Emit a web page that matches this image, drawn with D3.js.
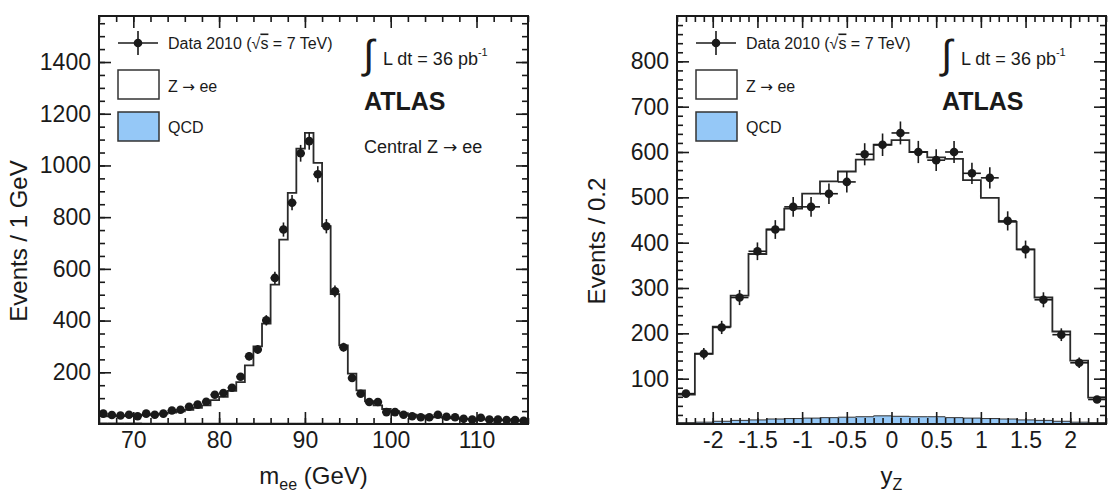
<!DOCTYPE html>
<html>
<head>
<meta charset="utf-8">
<script src="https://cdn.jsdelivr.net/npm/d3@7"></script>
<style>
  body { margin: 0; background: #fff; }
  svg { display: block; font-family: "Liberation Sans", Arial, Helvetica, sans-serif; }
</style>
</head>
<body>
<svg id="chart" width="1120" height="494"></svg>
<script>
// ---- m_ee panel (1 GeV bins from 66 to 116) ----
const massRange = [66, 116];
const massBin = 1;
const massData = [40, 35, 33, 36, 30, 40, 36, 40, 52, 55,
                  67, 75, 86, 113, 120, 140, 183, 262, 288, 401,
                  565, 752, 856, 1047, 1094, 966, 765, 513, 297, 178,
                  117, 85, 85, 46, 46, 36, 30, 26, 26, 36,
                  28, 26, 20, 17, 24, 17, 17, 15, 15, 12];
const massZee = [30, 30, 31, 32, 33, 35, 37, 40, 44, 49,
                 55, 62, 72, 92, 105, 128, 162, 227, 300, 388,
                 539, 713, 894, 1065, 1126, 1010, 765, 502, 304, 195,
                 130, 88, 72, 58, 50, 42, 36, 32, 28, 26,
                 24, 22, 20, 19, 18, 17, 16, 15, 14, 13];
const massQCD = [4, 4, 4, 4, 4, 3, 3, 3, 3, 3,
                 3, 3, 3, 3, 3, 3, 3, 3, 3, 3,
                 3, 3, 3, 3, 3, 3, 3, 3, 2, 2,
                 2, 2, 2, 2, 2, 2, 2, 2, 2, 2,
                 2, 2, 2, 2, 2, 2, 2, 2, 2, 2];
const massXTicks = [70, 80, 90, 100, 110];
const massYTicks = [200, 400, 600, 800, 1000, 1200, 1400];

// ---- y_Z panel (0.2 bins from -2.4 to 2.4) ----
const rapRange = [-2.4, 2.4];
const rapBin = 0.2;
const rapData = [67, 155, 213, 279, 381, 429, 479, 479, 508, 534, 595, 616,
                 642, 600, 582, 600, 553, 543, 448, 385, 274, 197, 135, 54];
const rapZee = [65, 155, 215, 283, 375, 429, 475, 508, 535, 557, 583, 616,
                626, 600, 588, 585, 538, 499, 446, 385, 279, 204, 140, 58];
const rapQCD = [3, 4, 6, 8, 9, 11, 12, 13, 14, 15, 16, 18,
                17, 16, 16, 14, 13, 12, 11, 9, 8, 6, 4, 3];
const rapXTicks = [-2, -1.5, -1, -0.5, 0, 0.5, 1, 1.5, 2];
const rapYTicks = [100, 200, 300, 400, 500, 600, 700, 800];

const INK = "#1a1a1a";
const QCD_FILL = "#95c8f7";
const SYM = '"DejaVu Sans", sans-serif';
const svg = d3.select("#chart");

function styleAxis(g, fontSize) {
  g.select(".domain").remove();
  g.selectAll(".tick line").attr("stroke", INK).attr("stroke-width", 1.6);
  g.selectAll(".tick text")
    .attr("fill", INK)
    .attr("font-size", fontSize)
    .attr("font-family", '"Liberation Sans", Arial, Helvetica, sans-serif');
}

// text like "Z → ee" with a wider arrow glyph
function arrowText(sel, before, after) {
  sel.append("tspan").text(before);
  sel.append("tspan").attr("font-family", SYM).attr("font-size", "0.95em").text("→");
  sel.append("tspan").text(after);
}

function drawPanel(p) {
  const g = svg.append("g");
  const x = d3.scaleLinear().domain(p.xDomain).range([p.left, p.right]);
  const y = d3.scaleLinear().domain(p.yDomain).range([p.bottom, p.top]);

  const clipId = "clip-" + p.id;
  g.append("clipPath").attr("id", clipId)
    .append("rect")
    .attr("x", p.left).attr("y", p.top)
    .attr("width", p.right - p.left).attr("height", p.bottom - p.top);

  // bin edges / centres from the bin structure
  const lowEdge = i => p.xDomain[0] + i * p.binWidth;
  const steps = vals => vals.map((v, i) => ({ x: lowEdge(i), v }))
    .concat([{ x: p.xDomain[1], v: vals[vals.length - 1] }]);

  const plot = g.append("g").attr("clip-path", `url(#${clipId})`);

  // QCD filled histogram
  plot.append("path")
    .datum(steps(p.qcd))
    .attr("fill", QCD_FILL)
    .attr("stroke", "#333")
    .attr("stroke-width", 1)
    .attr("d", d3.area().curve(d3.curveStepAfter)
      .x(d => x(d.x)).y0(y(0)).y1(d => y(d.v)));

  // Z -> ee histogram line
  plot.append("path")
    .datum(steps(p.zee))
    .attr("fill", "none")
    .attr("stroke", "#2a2a2a")
    .attr("stroke-width", 1.8)
    .attr("d", d3.line().curve(d3.curveStepAfter).x(d => x(d.x)).y(d => y(d.v)));

  // data points with errors
  const pts = p.data.map((v, i) => ({ c: lowEdge(i) + p.binWidth / 2, v, e: Math.sqrt(v) }));
  const pg = plot.append("g").selectAll("g").data(pts).join("g");
  pg.append("line")
    .attr("x1", d => x(d.c)).attr("x2", d => x(d.c))
    .attr("y1", d => y(d.v - d.e)).attr("y2", d => y(d.v + d.e))
    .attr("stroke", INK).attr("stroke-width", 1.6);
  pg.append("line")
    .attr("x1", d => x(d.c - p.binWidth / 2)).attr("x2", d => x(d.c + p.binWidth / 2))
    .attr("y1", d => y(d.v)).attr("y2", d => y(d.v))
    .attr("stroke", INK).attr("stroke-width", 1.6);
  pg.append("circle")
    .attr("cx", d => x(d.c)).attr("cy", d => y(d.v))
    .attr("r", 4.3).attr("fill", INK);

  // axes: ticks inward on all four sides
  const fmt = d => String(d);
  g.append("g").attr("transform", `translate(0,${p.bottom})`)
    .call(d3.axisBottom(x).tickValues(p.xTicks).tickSize(-12).tickPadding(8).tickFormat(fmt))
    .call(a => styleAxis(a, 23));
  g.append("g").attr("transform", `translate(0,${p.bottom})`)
    .call(d3.axisBottom(x).tickValues(p.xMinor).tickSize(-6).tickFormat(""))
    .call(a => styleAxis(a, 23));
  g.append("g").attr("transform", `translate(0,${p.top})`)
    .call(d3.axisTop(x).tickValues(p.xTicks).tickSize(-12).tickFormat(""))
    .call(a => styleAxis(a, 23));
  g.append("g").attr("transform", `translate(0,${p.top})`)
    .call(d3.axisTop(x).tickValues(p.xMinor).tickSize(-6).tickFormat(""))
    .call(a => styleAxis(a, 23));

  g.append("g").attr("transform", `translate(${p.left},0)`)
    .call(d3.axisLeft(y).tickValues(p.yTicks).tickSize(-12).tickPadding(8).tickFormat(fmt))
    .call(a => styleAxis(a, 23));
  g.append("g").attr("transform", `translate(${p.left},0)`)
    .call(d3.axisLeft(y).tickValues(p.yMinor).tickSize(-6).tickFormat(""))
    .call(a => styleAxis(a, 23));
  g.append("g").attr("transform", `translate(${p.right},0)`)
    .call(d3.axisRight(y).tickValues(p.yTicks).tickSize(-12).tickFormat(""))
    .call(a => styleAxis(a, 23));
  g.append("g").attr("transform", `translate(${p.right},0)`)
    .call(d3.axisRight(y).tickValues(p.yMinor).tickSize(-6).tickFormat(""))
    .call(a => styleAxis(a, 23));

  // frame
  g.append("rect")
    .attr("x", p.left).attr("y", p.top)
    .attr("width", p.right - p.left).attr("height", p.bottom - p.top)
    .attr("fill", "none").attr("stroke", INK).attr("stroke-width", 2);

  // axis titles
  const xt = g.append("text")
    .attr("x", (p.left + p.right) / 2).attr("y", 484)
    .attr("text-anchor", "middle").attr("font-size", 24).attr("fill", INK);
  xt.append("tspan").text(p.xTitle[0]);
  xt.append("tspan").attr("font-size", 16).attr("dy", 6).text(p.xTitle[1]);
  if (p.xTitle[2]) xt.append("tspan").attr("dy", -6).text(p.xTitle[2]);

  g.append("text")
    .attr("transform", `translate(${p.left - 72},241) rotate(-90)`)
    .attr("text-anchor", "middle").attr("font-size", 24).attr("fill", INK)
    .text(p.yTitle);

  // legend
  const L = p.left;
  const leg = g.append("g");
  leg.append("line").attr("x1", L + 19).attr("x2", L + 59).attr("y1", 43).attr("y2", 43)
    .attr("stroke", INK).attr("stroke-width", 1.6);
  leg.append("line").attr("x1", L + 39).attr("x2", L + 39).attr("y1", 31).attr("y2", 55)
    .attr("stroke", INK).attr("stroke-width", 1.6);
  leg.append("circle").attr("cx", L + 39).attr("cy", 43).attr("r", 4.3).attr("fill", INK);
  const dt = leg.append("text").attr("x", L + 69).attr("y", 48.5)
    .attr("font-size", 16).attr("fill", INK);
  dt.append("tspan").text("Data 2010 (√");
  dt.append("tspan").attr("text-decoration", "overline").text("s");
  dt.append("tspan").text(" = 7 TeV)");

  leg.append("rect").attr("x", L + 19).attr("y", 70).attr("width", 41).attr("height", 29)
    .attr("fill", "#fff").attr("stroke", "#333").attr("stroke-width", 1.5);
  leg.append("text").attr("x", L + 69).attr("y", 92).attr("font-size", 16).attr("fill", INK)
    .call(t => arrowText(t, "Z ", " ee"));
  leg.append("rect").attr("x", L + 19).attr("y", 112).attr("width", 41).attr("height", 29)
    .attr("fill", QCD_FILL).attr("stroke", "#333").attr("stroke-width", 1.5);
  leg.append("text").attr("x", L + 69).attr("y", 132.5).attr("font-size", 16).attr("fill", INK)
    .text("QCD");

  // luminosity and ATLAS label
  leg.append("text").attr("x", L + 264).attr("y", 68)
    .attr("font-size", 40).attr("fill", INK).text("∫");
  const lt = leg.append("text").attr("x", L + 284).attr("y", 65)
    .attr("font-size", 18).attr("fill", INK);
  lt.append("tspan").text("L dt = 36 pb");
  lt.append("tspan").attr("font-size", 11).attr("dy", -9).text("-1");
  leg.append("text").attr("x", L + 265).attr("y", 110)
    .attr("font-size", 25).attr("font-weight", "bold").attr("fill", INK).text("ATLAS");
  if (p.extra) {
    leg.append("text").attr("x", L + 265).attr("y", 153)
      .attr("font-size", 18).attr("fill", INK)
      .call(t => arrowText(t, p.extra[0], p.extra[1]));
  }
}

drawPanel({
  id: "mass", left: 99, right: 528, top: 16, bottom: 424,
  xDomain: massRange, yDomain: [0, 1578], binWidth: massBin,
  data: massData, zee: massZee, qcd: massQCD,
  xTicks: massXTicks, xMinor: d3.range(66, 117, 2),
  yTicks: massYTicks, yMinor: d3.range(50, 1578, 50),
  xTitle: ["m", "ee", " (GeV)"], yTitle: "Events / 1 GeV",
  extra: ["Central Z ", " ee"]
});

drawPanel({
  id: "rap", left: 677, right: 1106, top: 16, bottom: 424,
  xDomain: rapRange, yDomain: [0, 900], binWidth: rapBin,
  data: rapData, zee: rapZee, qcd: rapQCD,
  xTicks: rapXTicks, xMinor: d3.range(-24, 25).map(v => v / 10),
  yTicks: rapYTicks, yMinor: d3.range(20, 900, 20),
  xTitle: ["y", "Z"], yTitle: "Events / 0.2"
});
</script>
</body>
</html>
